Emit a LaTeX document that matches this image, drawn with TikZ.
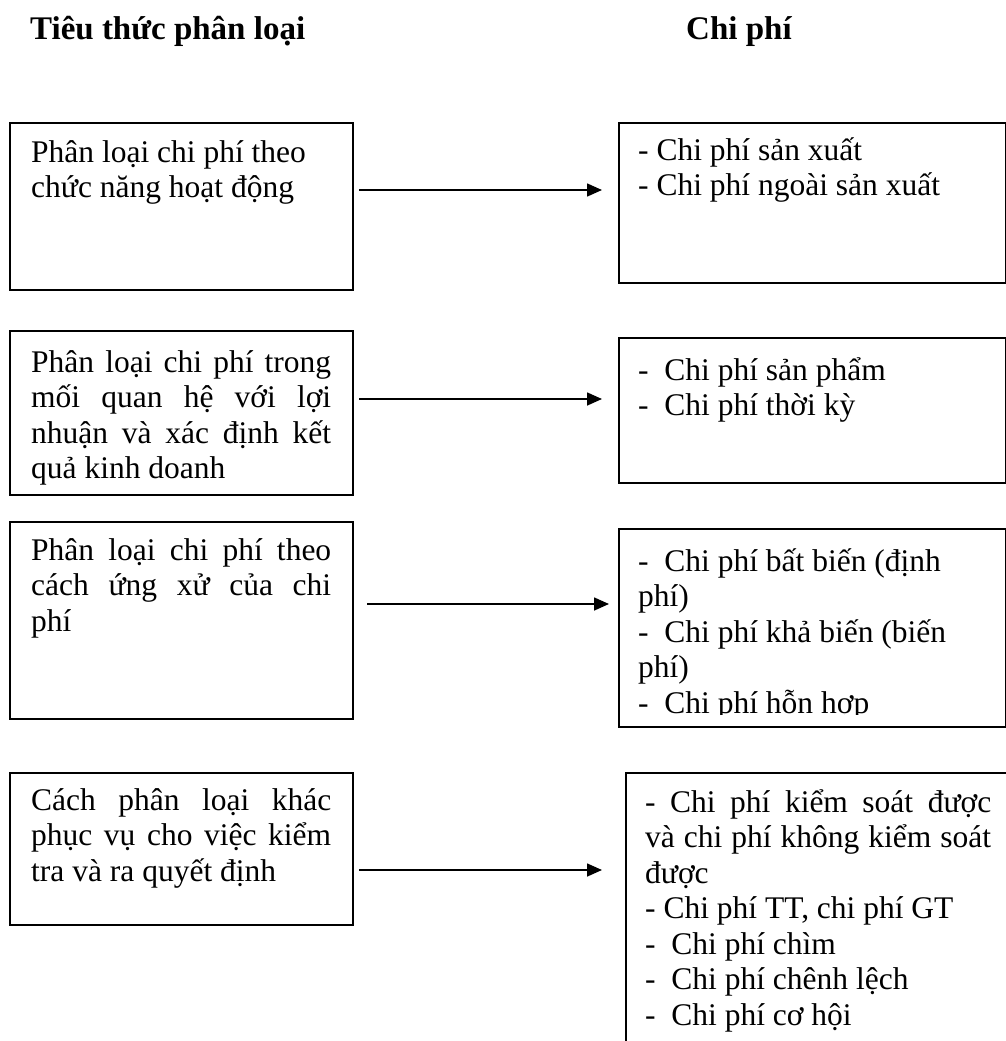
\documentclass[tikz,border=0pt]{standalone}
\usepackage{fontspec}
\setmainfont{Liberation Serif}
\usetikzlibrary{arrows.meta}
\begin{document}
\begin{tikzpicture}[x=1pt,y=-1pt,
  box/.style={draw, line width=1.5pt, inner sep=0pt, anchor=north west},
  txt/.style={inner sep=0pt, anchor=base west, font=\fontsize{31.5pt}{35.5pt}\selectfont},
  ttl/.style={inner sep=0pt, anchor=base west, font=\fontsize{33pt}{38pt}\selectfont\bfseries},
  arr/.style={line width=1.6pt, -{Triangle[length=15pt,width=13pt]}}]
\path[use as bounding box, fill=white] (0,0) rectangle (1006,1041);
\clip (0,0) rectangle (1006,1041);

% headers
\node[ttl] (H1) at (30,40) {Tiêu thức phân loại};
\node[ttl] (H2) at (686,40) {Chi phí};

% boxes
\node[box, minimum width=343pt, minimum height=167pt] (L1) at (9,122) {};
\node[box, minimum width=387pt, minimum height=160pt] (R1) at (618,122) {};
\node[box, minimum width=343pt, minimum height=164pt] (L2) at (9,330) {};
\node[box, minimum width=387pt, minimum height=145pt] (R2) at (618,337) {};
\node[box, minimum width=343pt, minimum height=197pt] (L3) at (9,521) {};
\node[box, minimum width=387pt, minimum height=198pt] (R3) at (618,528) {};
\node[box, minimum width=343pt, minimum height=152pt] (L4) at (9,772) {};
\node[box, minimum width=420pt, minimum height=300pt] (R4) at (625,772) {};

% texts
\node[txt] (tL1) at (31,162) {\parbox[t]{300pt}{Phân loại chi phí theo\\chức năng hoạt động}};
\node[txt] (tR1) at (638,160) {\parbox[t]{347pt}{- Chi phí sản xuất\\- Chi phí ngoài sản xuất}};
\node[txt] (tL2) at (31,372) {\parbox[t]{300pt}{Phân loại chi phí trong\linebreak mối quan hệ với lợi\linebreak nhuận và xác định kết\linebreak quả kinh doanh}};
\node[txt] (tR2) at (638,380) {\parbox[t]{347pt}{-~ Chi phí sản phẩm\\-~ Chi phí thời kỳ}};
\node[txt] (tL3) at (31,560) {\parbox[t]{300pt}{Phân loại chi phí theo\linebreak cách ứng xử của chi\linebreak phí}};
\begin{scope}
\clip (618,528) rectangle (1005,714);
\node[txt] (tR3) at (638,571) {\parbox[t]{347pt}{-~ Chi phí bất biến (định\\phí)\\-~ Chi phí khả biến (biến\\phí)\\-~ Chi phí hỗn hợp}};
\end{scope}
\node[txt] (tL4) at (31,810) {\parbox[t]{300pt}{Cách phân loại khác\linebreak phục vụ cho việc kiểm\linebreak tra và ra quyết định}};
\begin{scope}
\clip (625,772) rectangle (1006,1033);
\node[txt] (tR4) at (645,812) {\parbox[t]{346pt}{- Chi phí kiểm soát được\linebreak và chi phí không kiểm soát\linebreak được\\- Chi phí TT, chi phí GT\\-~ Chi phí chìm\\-~ Chi phí chênh lệch\\-~ Chi phí cơ hội}};
\end{scope}

% connectors
\coordinate (a1s) at (359,190); \coordinate (a1e) at (602,190);
\coordinate (a2s) at (359,399); \coordinate (a2e) at (602,399);
\coordinate (a3s) at (367,604); \coordinate (a3e) at (609,604);
\coordinate (a4s) at (359,870); \coordinate (a4e) at (602,870);
\draw[arr] (a1s) -- (a1e);
\draw[arr] (a2s) -- (a2e);
\draw[arr] (a3s) -- (a3e);
\draw[arr] (a4s) -- (a4e);
\end{tikzpicture}
\end{document}
